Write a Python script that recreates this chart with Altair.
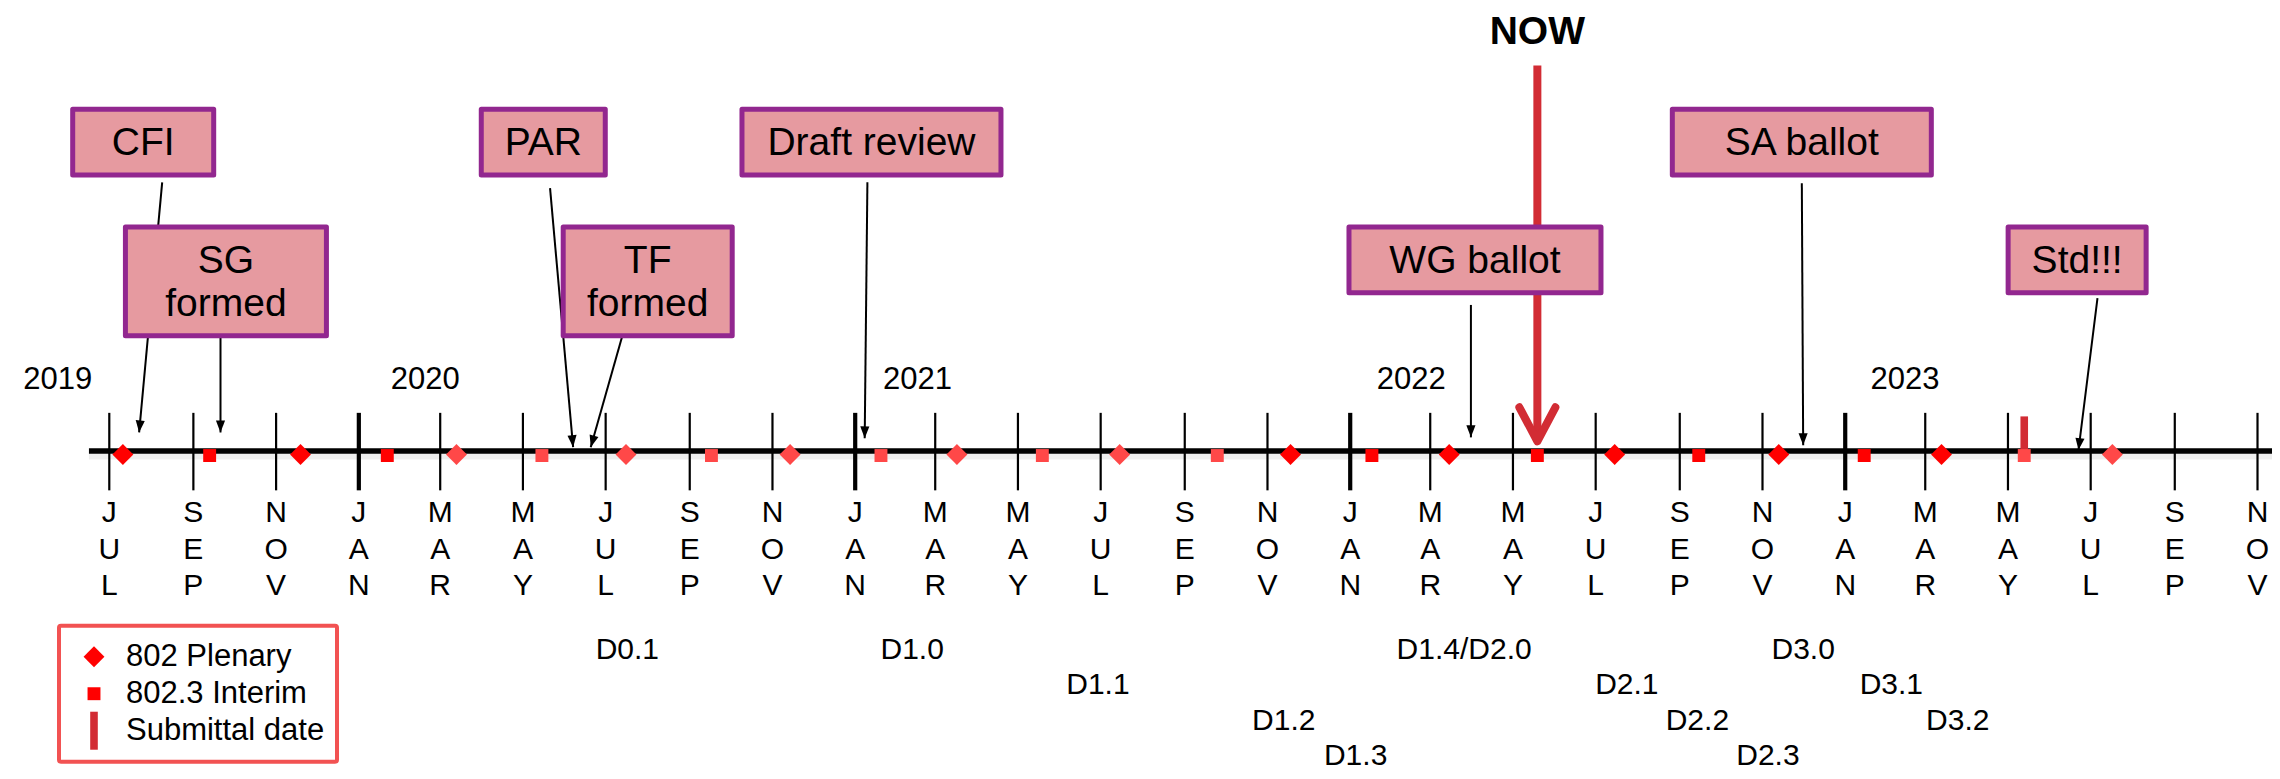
import math
from datetime import date
import pandas as pd
import altair as alt

# ---------------------------------------------------------------- data
tick_dates = ["2019-07-01", "2019-09-01", "2019-11-01", "2020-01-01", "2020-03-01", "2020-05-01",
              "2020-07-01", "2020-09-01", "2020-11-01", "2021-01-01", "2021-03-01", "2021-05-01",
              "2021-07-01", "2021-09-01", "2021-11-01", "2022-01-01", "2022-03-01", "2022-05-01",
              "2022-07-01", "2022-09-01", "2022-11-01", "2023-01-01", "2023-03-01", "2023-05-01",
              "2023-07-01", "2023-09-01", "2023-11-01"]
tick_labels = ["JUL", "SEP", "NOV", "JAN", "MAR", "MAY", "JUL", "SEP", "NOV", "JAN", "MAR", "MAY",
               "JUL", "SEP", "NOV", "JAN", "MAR", "MAY", "JUL", "SEP", "NOV", "JAN", "MAR", "MAY",
               "JUL", "SEP", "NOV"]

year_labels = ["2019", "2020", "2021", "2022", "2023"]
year_dates = ["2019-05-24", "2020-02-19", "2021-02-16", "2022-02-15", "2023-02-14"]

plenary_dates = ["2019-07-11", "2019-11-19", "2020-03-13", "2020-07-16", "2020-11-14", "2021-03-17",
                 "2021-07-15", "2021-11-18", "2022-03-15", "2022-07-15", "2022-11-13", "2023-03-13",
                 "2023-07-17"]
plenary_light = [False, False, True, True, True, True, True, False, False, False, False, False, True]
interim_dates = ["2019-09-13", "2020-01-22", "2020-05-15", "2020-09-17", "2021-01-20", "2021-05-19",
                 "2021-09-25", "2022-01-17", "2022-05-19", "2022-09-15", "2023-01-15", "2023-05-13"]
interim_light = [False, False, True, True, True, True, True, False, False, False, False, True]
submittal_dates = ["2023-05-13"]

draft_labels = ["D0.1", "D1.0", "D1.1", "D1.2", "D1.3", "D1.4/D2.0", "D2.1", "D2.2", "D2.3",
                "D3.0", "D3.1", "D3.2"]
draft_dates = ["2020-07-17", "2021-02-12", "2021-06-29", "2021-11-13", "2022-01-05", "2022-03-26",
               "2022-07-24", "2022-09-14", "2022-11-05", "2022-12-01", "2023-02-04", "2023-03-25"]
draft_rows = [0, 0, 1, 2, 3, 0, 1, 2, 3, 0, 1, 2]

milestone_labels = ["CFI", "SG\nformed", "PAR", "TF\nformed", "Draft review", "WG ballot",
                    "SA ballot", "Std!!!"]
milestone_dates = ["2019-07-23", "2019-09-21", "2020-06-07", "2020-06-20", "2021-01-08",
                   "2022-03-31", "2022-12-01", "2023-06-22"]
milestone_box_dates = ["2019-07-26", "2019-09-25", "2020-05-16", "2020-08-01", "2021-01-13",
                       "2022-04-03", "2022-11-30", "2023-06-21"]
milestone_tail_dates = ["2019-08-09", "2019-09-21", "2020-05-21", "2020-07-13", "2021-01-10",
                        "2022-03-31", "2022-11-30", "2023-07-06"]

now_date = "2022-05-19"
legend_labels = ["802 Plenary", "802.3 Interim", "Submittal date"]

# ---------------------------------------------------------------- layout / style
FONT = "Liberation Sans"
W, H = 2264, 763
UNIT = 37.0          # reference px per vertical layout unit
LINE_ROW = 456.0     # reference row of the timeline
TOP_ROW, BOTTOM_ROW = 4.3, 782.1   # reference rows shown at the top / bottom of the plot


def lv(row):
    return (LINE_ROW - row) / UNIT


D0, D1 = date(2019, 4, 21), date(2023, 11, 8)
PPD = W / (D1 - D0).days
PPU = H / (BOTTOM_ROW - TOP_ROW)   # screen px per reference px (vertical)

X_SCALE = alt.Scale(type="utc", nice=False,
                    domain=[alt.DateTime(year=2019, month=4, date=21, utc=True),
                            alt.DateTime(year=2023, month=11, date=8, utc=True)])
Y_SCALE = alt.Scale(domain=[lv(BOTTOM_ROW), lv(TOP_ROW)], nice=False, zero=False)


def X(f):
    return alt.X(f"{f}:T", scale=X_SCALE, axis=None)


def Y(f):
    return alt.Y(f"{f}:Q", scale=Y_SCALE, axis=None)


RED = "#ff0000"
LIGHT_RED = "#ff4848"
CRIMSON = "#d22c34"
PINK = "#e69aa0"
PURPLE = "#92278f"

box_rows = ["upper", "lower", "upper", "lower", "upper", "lower", "upper", "lower"]
box_widths = [146, 206, 129, 174, 264, 257, 264, 143]
row_top = {"upper": 105, "lower": 225}
tail_rows = [182, 340, 188, 340, 182, 307, 183, 300]
tip_rows = [437, 437, 452, 452, 443, 442, 450, 455]

DIAMOND = "M0,-0.55L0.55,0L0,0.55L-0.55,0Z"
SQUARE = "M-0.34,-0.34L0.34,-0.34L0.34,0.34L-0.34,0.34Z"
BAR = "M-0.2,-1L0.2,-1L0.2,1L-0.2,1Z"
ARROWHEAD = "M0,0L-0.38,-1L0.38,-1Z"
CHEVRON = "M-0.53,-1L0,0L0.53,-1"

# ---------------------------------------------------------------- tables
ticks = pd.DataFrame({"date": tick_dates,
                      "kind": ["year" if t == "JAN" else "month" for t in tick_labels],
                      "top": lv(417), "bottom": lv(496)})

letters = pd.DataFrame([{"date": d, "ch": ch, "y": lv(528 + 37.5 * i)}
                        for d, lab in zip(tick_dates, tick_labels) for i, ch in enumerate(lab)])

line = pd.DataFrame({"start": ["2019-06-16"], "end": ["2024-02-01"],
                     "y": [lv(456)], "ys": [lv(461)]})

lane = {"802 Plenary": lv(459.5), "802.3 Interim": lv(460.5), "Submittal date": lv(440)}
markers = pd.DataFrame(
    [{"date": d, "kind": "Submittal date", "light": False} for d in submittal_dates]
    + [{"date": d, "kind": "802 Plenary", "light": l} for d, l in zip(plenary_dates, plenary_light)]
    + [{"date": d, "kind": "802.3 Interim", "light": l} for d, l in zip(interim_dates, interim_light)])
markers["y"] = markers["kind"].map(lane)

years = pd.DataFrame({"date": year_dates, "label": year_labels, "y": lv(393)})
drafts = pd.DataFrame({"date": draft_dates, "label": draft_labels,
                       "y": [lv(668 + 36 * r) for r in draft_rows]})

ann_rows, text_rows = [], []
for lab, tip, box, tail, row, w, ty, py in zip(milestone_labels, milestone_dates, milestone_box_dates,
                                                milestone_tail_dates, box_rows, box_widths,
                                                tail_rows, tip_rows):
    lines = lab.split("\n")
    top = row_top[row]
    bottom = top + 72 + 44 * (len(lines) - 1)
    dx = (date.fromisoformat(tip) - date.fromisoformat(tail)).days * PPD
    dy = (py - ty) * PPU
    ang = math.degrees(math.atan2(-dx, dy)) % 360
    ann_rows.append({"box": box, "tail": tail, "tip": tip, "w": w - 5,
                     "btop": lv(top + 2.5), "bbot": lv(bottom - 2.5),
                     "ty": lv(ty), "py": lv(py), "angle": ang})
    for i, t in enumerate(lines):
        text_rows.append({"box": box, "text": t, "y": lv(top + 49 + 44 * i)})
ann = pd.DataFrame(ann_rows)
ann_text = pd.DataFrame(text_rows)

now = pd.DataFrame({"date": [now_date], "label": ["NOW"], "top": [lv(63)], "shaft_end": [lv(440)],
                    "tip": [lv(446)], "text_y": [lv(41)]})

# ---------------------------------------------------------------- layers
shadow = alt.Chart(line).mark_rule(color="black", opacity=0.07, strokeWidth=7).encode(
    x=X("start"), x2=alt.X2("end"), y=Y("ys"))

tick_layer = alt.Chart(ticks).mark_rule(color="black").encode(
    x=X("date"), y=Y("top"), y2=alt.Y2("bottom"),
    strokeWidth=alt.StrokeWidth("kind:N", scale=alt.Scale(domain=["month", "year"], range=[2.2, 4.2]),
                                legend=None))

timeline = alt.Chart(line).mark_rule(color="black", strokeWidth=5.5).encode(
    x=X("start"), x2=alt.X2("end"), y=Y("y"))

now_shaft = alt.Chart(now).mark_rule(color=CRIMSON, strokeWidth=8).encode(
    x=X("date"), y=Y("top"), y2=alt.Y2("shaft_end"))
now_head = alt.Chart(now).mark_point(shape=CHEVRON, filled=False, size=4624, color=CRIMSON,
                                     strokeWidth=8, strokeCap="round", strokeJoin="round",
                                     opacity=1).encode(x=X("date"), y=Y("tip"))
now_text = alt.Chart(now).mark_text(font=FONT, fontSize=39, fontWeight="bold", color="black",
                                    align="center", baseline="alphabetic").encode(
    x=X("date"), y=Y("text_y"), text="label:N")

arrows = alt.Chart(ann).mark_rule(color="black", strokeWidth=2).encode(
    x=X("tail"), x2=alt.X2("tip"), y=Y("ty"), y2=alt.Y2("py"))
heads = alt.Chart(ann).mark_point(shape=ARROWHEAD, filled=True, size=576, color="black",
                                  opacity=1, strokeWidth=0).encode(
    x=X("tip"), y=Y("py"), angle=alt.Angle("angle:Q", scale=None))

boxes = alt.Chart(ann).mark_bar(fill=PINK, stroke=PURPLE, strokeWidth=5, opacity=1,
                                strokeJoin="round").encode(
    x=X("box"), y=Y("btop"), y2=alt.Y2("bbot"), size=alt.Size("w:Q", scale=None))
box_text = alt.Chart(ann_text).mark_text(font=FONT, fontSize=39, color="black", align="center",
                                         baseline="alphabetic").encode(
    x=X("box"), y=Y("y"), text="text:N")

SHAPE_SCALE = alt.Scale(domain=legend_labels, range=[DIAMOND, SQUARE, BAR])
COLOR_SCALE = alt.Scale(domain=legend_labels, range=[RED, RED, CRIMSON])
LEGEND_Y = (634 - TOP_ROW) * PPU
LEG = alt.Legend(title=None, orient="none", legendX=51, legendY=LEGEND_Y, direction="vertical",
                 symbolSize=1444, symbolStrokeWidth=0, symbolOffset=4, labelFont=FONT,
                 labelFontSize=31, labelColor="black", labelLimit=400, labelOffset=13,
                 rowPadding=3, padding=12, strokeColor="#f25252", fillColor="white",
                 cornerRadius=2)

solid = alt.Chart(markers).transform_filter("!datum.light").mark_point(
    filled=True, size=1444, opacity=1, strokeWidth=0).encode(
    x=X("date"), y=Y("y"),
    shape=alt.Shape("kind:N", scale=SHAPE_SCALE, legend=LEG),
    color=alt.Color("kind:N", scale=COLOR_SCALE, legend=LEG))
light = alt.Chart(markers).transform_filter("datum.light").mark_point(
    filled=True, size=1444, opacity=1, strokeWidth=0, color=LIGHT_RED).encode(
    x=X("date"), y=Y("y"),
    shape=alt.Shape("kind:N", scale=SHAPE_SCALE, legend=None))

letter_layer = alt.Chart(letters).mark_text(font=FONT, fontSize=30, color="black", align="center",
                                            baseline="alphabetic").encode(
    x=X("date"), y=Y("y"), text="ch:N")
year_layer = alt.Chart(years).mark_text(font=FONT, fontSize=31, color="black", align="center",
                                        baseline="alphabetic").encode(
    x=X("date"), y=Y("y"), text="label:N")
draft_layer = alt.Chart(drafts).mark_text(font=FONT, fontSize=30, color="black", align="center",
                                          baseline="alphabetic").encode(
    x=X("date"), y=Y("y"), text="label:N")

chart = alt.layer(
    shadow, tick_layer, timeline, now_shaft, arrows, heads, boxes, box_text, now_head, now_text,
    solid, light, letter_layer, year_layer, draft_layer
).properties(
    width=W, height=H, padding=0, autosize=alt.AutoSizeParams(type="none")
).configure_view(stroke=None).configure_legend(strokeWidth=4)

chart.save("out.html", embed_options={"renderer": "svg", "actions": False})
